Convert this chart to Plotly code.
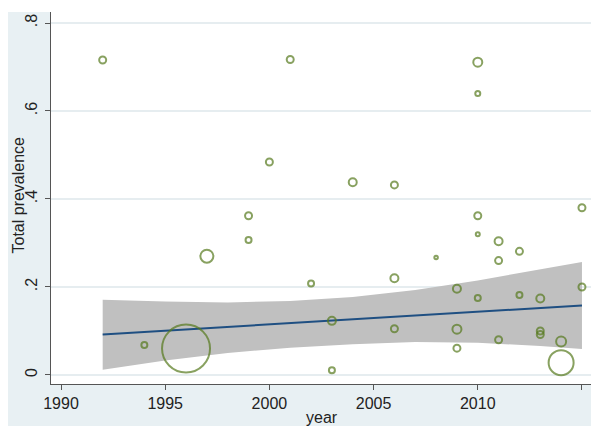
import plotly.graph_objects as go

# ---- data ----
years = [1992, 2001, 2010, 2010, 2000, 2004, 2006, 2015, 1999, 2010, 2010, 1999,
         2011, 2012, 1997, 2008, 2011, 2006, 2002, 2015, 2009, 2010, 2012, 2013,
         2003, 2006, 2009, 2013, 2013, 2011, 2014, 1994, 2009, 1996, 2014, 2003]
prevalence = [0.716, 0.717, 0.711, 0.640, 0.484, 0.438, 0.432, 0.380, 0.362, 0.362,
              0.320, 0.307, 0.304, 0.281, 0.270, 0.267, 0.260, 0.220, 0.208, 0.200,
              0.196, 0.175, 0.182, 0.174, 0.123, 0.105, 0.104, 0.100, 0.092, 0.080,
              0.076, 0.068, 0.061, 0.060, 0.028, 0.011]
weights = [7, 7, 9, 5, 7, 8, 7, 7, 7, 7, 4, 6, 8, 7, 13, 3.5, 7, 8, 6, 7,
           8, 6, 6, 8, 8, 7, 9, 7, 7, 7, 10, 6, 7, 48, 25, 6]

fit_years = [1992, 2015]
fit_values = [0.092, 0.158]

ci_years = [1992, 1995, 1998, 2001, 2004, 2007, 2010, 2013, 2015]
ci_upper = [0.171, 0.167, 0.165, 0.168, 0.177, 0.193, 0.215, 0.240, 0.257]
ci_lower = [0.012, 0.033, 0.050, 0.062, 0.070, 0.075, 0.073, 0.066, 0.059]

x_ticks = [1990, 1995, 2000, 2005, 2010, 2015]
y_ticks = [0, 0.2, 0.4, 0.6, 0.8]
y_tick_labels = ["0", ".2", ".4", ".6", ".8"]

# ---- figure (page has an 8px body margin) ----
W, H = 591, 418
ML, MR, MT, MB = 43, 6, 4, 42
PW, PH = W - ML - MR, H - MT - MB

fig = go.Figure()

fig.add_trace(go.Scatter(
    x=ci_years + ci_years[::-1], y=ci_upper + ci_lower[::-1],
    fill="toself", fillcolor="#c0c0c0", line=dict(width=0),
    mode="lines", hoverinfo="skip", showlegend=False))

fig.add_trace(go.Scatter(
    x=fit_years, y=fit_values, mode="lines",
    line=dict(color="#1f4f82", width=2), showlegend=False))

fig.add_trace(go.Scatter(
    x=years, y=prevalence, mode="markers",
    marker=dict(symbol="circle-open", size=weights, color="#56791c",
                line=dict(width=2, color="#56791c")),
    showlegend=False))

axis_font = dict(family="Liberation Sans, Arial, sans-serif", size=16, color="#222222")

annotations = [
    # thin white strip above the graph region
    dict(xref="paper", yref="paper", x=-ML / PW, xanchor="left", y=1, yanchor="bottom",
         width=W, height=MT, text=" ", showarrow=False, bgcolor="white",
         borderpad=0, borderwidth=0),
    # axis titles
    dict(xref="paper", yref="paper", x=(314 - ML) / PW, xanchor="center",
         y=-(410 - (MT + PH)) / PH, yanchor="middle", text="year",
         showarrow=False, font=axis_font),
    dict(xref="paper", yref="paper", x=(9.5 - ML) / PW, xanchor="center",
         y=(MT + PH - 187) / PH, yanchor="middle", text="Total prevalence",
         textangle=-90, showarrow=False, font=axis_font, borderpad=0),
]

fig.update_layout(
    width=W, height=H,
    margin=dict(l=ML, r=MR, t=MT, b=MB, autoexpand=False),
    paper_bgcolor="#e8f0f3",
    plot_bgcolor="white",
    font=axis_font,
    annotations=annotations,
    xaxis=dict(
        range=[1989.52, 2015.53], tickvals=x_ticks, ticks="outside", ticklen=5,
        tickcolor="#555555", showline=True, linecolor="#555555", linewidth=1.2,
        showgrid=False, zeroline=False, tickfont=axis_font, automargin=False),
    yaxis=dict(
        range=[-0.0205, 0.825], tickvals=y_ticks, ticktext=y_tick_labels,
        tickangle=-90, ticks="outside", ticklen=5, tickcolor="#555555",
        showline=True, linecolor="#555555", linewidth=1.2,
        showgrid=True, gridcolor="#e6edf0", gridwidth=1.5, zeroline=False,
        tickfont=axis_font, automargin=False, ticklabelstandoff=2),
)

fig.write_html("out.html")
